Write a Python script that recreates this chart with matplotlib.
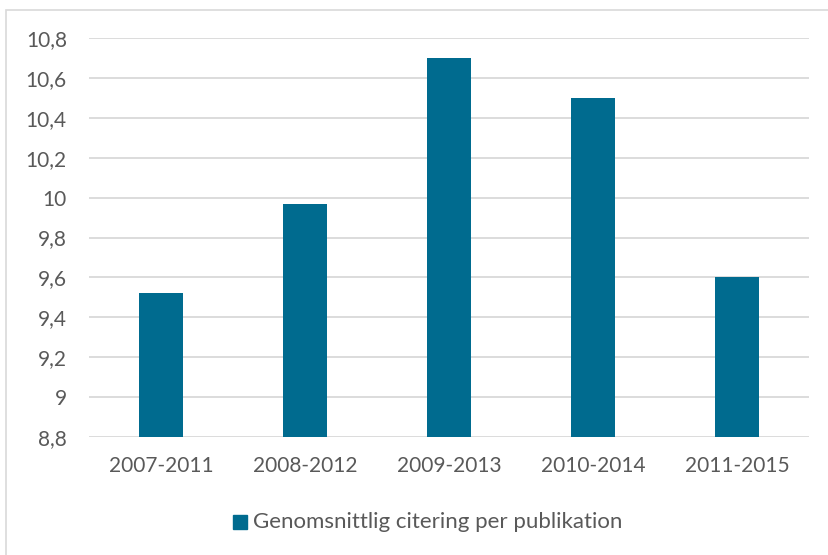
import matplotlib
matplotlib.use("Agg")
import matplotlib.pyplot as plt
from matplotlib.patches import Rectangle

periods = ["2007-2011", "2008-2012", "2009-2013", "2010-2014", "2011-2015"]
citations = [9.52, 9.97, 10.7, 10.5, 9.6]
yticks = [8.8, 9.0, 9.2, 9.4, 9.6, 9.8, 10.0, 10.2, 10.4, 10.6, 10.8]
ylabels = ["8,8", "9", "9,2", "9,4", "9,6", "9,8", "10", "10,2", "10,4", "10,6", "10,8"]
series_name = "Genomsnittlig citering per publikation"

bar_color = "#006B8F"
text_color = "#595959"
grid_color = "#D9D9D9"

plt.rcParams["font.family"] = ["Lato", "DejaVu Sans"]

W, H = 829, 555
fig = plt.figure(figsize=(W / 100, H / 100), dpi=100)
ax = fig.add_axes([89 / W, 1 - 437 / H, 720 / W, 399 / H])

x = list(range(len(periods)))
# axis starts at 8,8 so the bars get clipped at the bottom
ax.bar(x, citations, width=0.31, color=bar_color, zorder=3)

ax.set_xlim(-0.5, len(periods) - 0.5)
ax.set_ylim(8.8, 10.8)
ax.set_yticks(yticks)
ax.set_yticklabels(ylabels)
ax.set_xticks(x)
ax.set_xticklabels(periods)
ax.tick_params(axis="both", length=0, labelsize=15, colors=text_color)
ax.tick_params(axis="y", pad=16)
ax.tick_params(axis="x", pad=14)
ax.yaxis.grid(True, color=grid_color, linewidth=1.3, zorder=0)
for s in ax.spines.values():
    s.set_visible(False)

# legend entry drawn in figure pixels
fig.patches.append(Rectangle((233 / W, 1 - 529 / H), 14 / W, 14 / H,
                             transform=fig.transFigure, color=bar_color))
fig.text(253 / W, 1 - 522 / H, series_name, color=text_color,
         fontsize=16, va="center", ha="left")

# chart area border
fig.patches.append(Rectangle((6.5 / W, -0.01), 1.0, 1 - 9.5 / H + 0.01,
                             transform=fig.transFigure, fill=False,
                             edgecolor=grid_color, linewidth=1.2))

fig.savefig("out.png", dpi=100)
